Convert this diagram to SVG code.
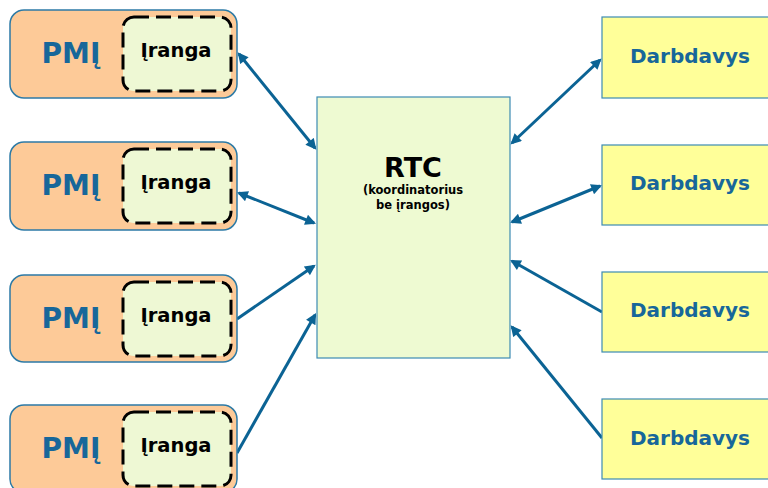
<svg xmlns="http://www.w3.org/2000/svg" width="768" height="488" viewBox="0 0 768 488">
<style>
.pmi{fill:#fdca98;stroke:#2c7aa6;stroke-width:1.5}
.ir{fill:#eef8d4;stroke:#000;stroke-width:3;stroke-dasharray:15 7}
.rtc{fill:#eefad2;stroke:#3d8bb3;stroke-width:1.2}
.db{fill:#ffff99;stroke:#3d8bb3;stroke-width:1.2}
.t{font-family:"DejaVu Sans",Verdana,sans-serif;font-weight:bold;text-anchor:middle}
.tp{font-size:28px;fill:#17679a}
.ti{font-size:19.5px;fill:#000}
.td{font-size:20px;fill:#17679a}
.c{stroke:#0b6394;stroke-width:3;fill:none}
</style>
<defs>
<marker id="ah" viewBox="0 0 10 10" refX="8" refY="5" markerWidth="4.2" markerHeight="3.6" orient="auto-start-reverse" markerUnits="strokeWidth">
<path d="M0,0 L10,5 L0,10 z" fill="#0b6394"/>
</marker>
</defs>
<g id="connectors">
<line class="c" x1="239" y1="54" x2="315" y2="148" marker-start="url(#ah)" marker-end="url(#ah)"/>
<line class="c" x1="239" y1="193" x2="314" y2="223" marker-start="url(#ah)" marker-end="url(#ah)"/>
<line class="c" x1="237" y1="319" x2="314" y2="266" marker-end="url(#ah)"/>
<line class="c" x1="237" y1="453" x2="315" y2="315" marker-end="url(#ah)"/>
<line class="c" x1="600" y1="60" x2="512" y2="143" marker-start="url(#ah)" marker-end="url(#ah)"/>
<line class="c" x1="600" y1="186" x2="512" y2="222" marker-start="url(#ah)" marker-end="url(#ah)"/>
<line class="c" x1="602" y1="312" x2="512" y2="261" marker-end="url(#ah)"/>
<line class="c" x1="602" y1="438" x2="512" y2="327" marker-end="url(#ah)"/>
</g>
<g id="pmi1"><rect class="pmi" x="10" y="10" width="227" height="88" rx="14"/><rect class="ir" x="123" y="17" width="108" height="74" rx="11"/><text class="t tp" x="71" y="63">PMĮ</text><text class="t ti" x="176" y="57">Įranga</text></g>
<g id="pmi2"><rect class="pmi" x="10" y="142" width="227" height="88" rx="14"/><rect class="ir" x="123" y="149" width="108" height="74" rx="11"/><text class="t tp" x="71" y="195">PMĮ</text><text class="t ti" x="176" y="189">Įranga</text></g>
<g id="pmi3"><rect class="pmi" x="10" y="275" width="227" height="87" rx="14"/><rect class="ir" x="123" y="282" width="108" height="74" rx="11"/><text class="t tp" x="71" y="328">PMĮ</text><text class="t ti" x="176" y="322">Įranga</text></g>
<g id="pmi4"><rect class="pmi" x="10" y="405" width="227" height="88" rx="14"/><rect class="ir" x="123" y="412" width="108" height="74" rx="11"/><text class="t tp" x="71" y="458">PMĮ</text><text class="t ti" x="176" y="452">Įranga</text></g>
<g id="rtc"><rect class="rtc" x="317" y="97" width="193" height="261"/><text class="t" x="413" y="177" font-size="27px" fill="#000">RTC</text><text class="t" x="413" y="194" font-size="11.5px" fill="#000">(koordinatorius</text><text class="t" x="413" y="209" font-size="11.5px" fill="#000">be įrangos)</text></g>
<g id="darb1"><rect class="db" x="602" y="17" width="170" height="81"/><text class="t td" x="690" y="63">Darbdavys</text></g>
<g id="darb2"><rect class="db" x="602" y="145" width="170" height="80"/><text class="t td" x="690" y="190">Darbdavys</text></g>
<g id="darb3"><rect class="db" x="602" y="272" width="170" height="80"/><text class="t td" x="690" y="317">Darbdavys</text></g>
<g id="darb4"><rect class="db" x="602" y="399" width="170" height="80"/><text class="t td" x="690" y="445">Darbdavys</text></g>
</svg>
